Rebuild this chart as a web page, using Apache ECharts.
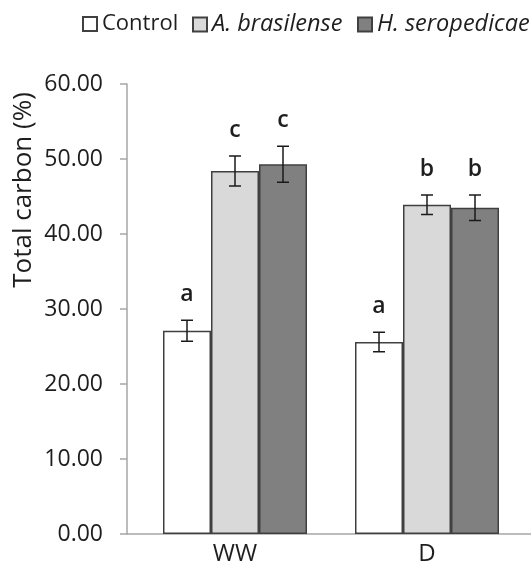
<!DOCTYPE html>
<html>
<head>
<meta charset="utf-8">
<script src="https://cdn.jsdelivr.net/npm/echarts@6/dist/echarts.min.js"></script>
<style>
  html, body { margin: 0; padding: 0; background: #fff; }
  #chart { width: 531px; height: 566px; }
</style>
</head>
<body>
<div id="chart"></div>
<script>
// Total carbon (%) per treatment, well-watered (WW) vs drought (D)

var categories = ['WW', 'D'];
var seriesNames = ['Control', 'A. brasilense', 'H. seropedicae'];

var control = [27.1, 25.6];
var brasilense = [48.4, 43.9];
var seropedicae = [49.3, 43.5];

var controlErr = [1.4, 1.3];
var brasilenseErr = [2.0, 1.3];
var seropedicaeErr = [2.4, 1.7];

var controlLetters = ['a', 'a'];
var brasilenseLetters = ['c', 'b'];
var seropedicaeLetters = ['c', 'b'];

var yTicks = [0, 10, 20, 30, 40, 50, 60];

var values = [control, brasilense, seropedicae];
var errors = [controlErr, brasilenseErr, seropedicaeErr];
var letters = [controlLetters, brasilenseLetters, seropedicaeLetters];
var colors = ['#ffffff', '#d9d9d9', '#808080'];

var font = '"Open Sans", "Noto Sans", sans-serif';
var textColor = '#1e1e1e';

var myChart = echarts.init(document.getElementById('chart'), null, { renderer: 'canvas' });

var series = [];
values.forEach(function (vals, i) {
  series.push({
    name: seriesNames[i],
    type: 'bar',
    xAxisIndex: 0,
    yAxisIndex: 0,
    barGap: '0%',
    barCategoryGap: '25%',
    itemStyle: { color: colors[i], borderColor: '#404040', borderWidth: 1.5 },
    data: vals
  });
});

// error bars and significance letters
values.forEach(function (vals, i) {
  series.push({
    name: seriesNames[i] + ' err',
    type: 'custom',
    xAxisIndex: 0,
    yAxisIndex: 0,
    z: 5,
    data: vals.map(function (v, k) { return [k, v, errors[i][k]]; }),
    renderItem: function (params, api) {
      var k = api.value(0), v = api.value(1), e = api.value(2);
      var c = api.coord([k, v]);
      var bw = api.size([1, 0])[0] * 0.25;
      var x = c[0] + (i - 1) * bw;
      var top = api.coord([k, v + e])[1];
      var bot = api.coord([k, v - e])[1];
      var cap = 6;
      var st = { stroke: '#1a1a1a', lineWidth: 1.5 };
      return {
        type: 'group',
        children: [
          { type: 'line', shape: { x1: x, y1: top, x2: x, y2: bot }, style: st },
          { type: 'line', shape: { x1: x - cap, y1: top, x2: x + cap, y2: top }, style: st },
          { type: 'line', shape: { x1: x - cap, y1: bot, x2: x + cap, y2: bot }, style: st },
          {
            type: 'text',
            x: x, y: top - 14,
            style: {
              text: letters[i][params.dataIndex],
              fill: textColor,
              font: '600 23px ' + font,
              textAlign: 'center',
              textVerticalAlign: 'bottom'
            }
          }
        ]
      };
    }
  });
});

function legendFor(name, left, italic) {
  return {
    data: [name],
    left: left,
    top: 13,
    padding: 0,
    icon: 'rect',
    itemWidth: 14,
    itemHeight: 14,
    itemGap: 0,
    textStyle: {
      fontFamily: font, fontSize: 22, color: textColor, padding: [0, 0, 0, 0],
      rich: { i: { fontFamily: font, fontSize: 23.5, color: textColor, fontStyle: 'italic' } }
    },
    formatter: italic ? function (n) { return '{i|' + n + '}'; } : '{name}'
  };
}

var option = {
  animation: false,
  backgroundColor: '#ffffff',
  legend: [
    legendFor(seriesNames[0], 82, false),
    legendFor(seriesNames[1], 192, true),
    legendFor(seriesNames[2], 357, true)
  ],
  grid: [
    { left: 139, right: 8, top: 84, bottom: 32 },
    { left: 127, right: 0, top: 84, bottom: 32 }
  ],
  xAxis: [
    {
      type: 'category',
      gridIndex: 0,
      data: categories,
      axisLine: { show: false },
      axisTick: { show: false },
      axisLabel: { fontFamily: font, fontSize: 24, color: textColor, margin: 8 }
    },
    {
      type: 'value',
      gridIndex: 1,
      axisLine: { show: true, lineStyle: { color: '#a6a6a6', width: 1.5 } },
      axisTick: { show: false },
      axisLabel: { show: false },
      splitLine: { show: false }
    }
  ],
  yAxis: [
    {
      type: 'value',
      gridIndex: 0,
      min: yTicks[0],
      max: yTicks[yTicks.length - 1],
      interval: 10,
      offset: 12,
      axisLine: { show: true, lineStyle: { color: '#a6a6a6', width: 1.5 } },
      axisTick: { show: true, length: 7, lineStyle: { color: '#a6a6a6', width: 1.5 } },
      splitLine: { show: false },
      axisLabel: {
        fontFamily: font, fontSize: 23, color: textColor, margin: 24,
        formatter: function (v) { return v.toFixed(2); }
      }
    },
    { type: 'value', gridIndex: 1, show: false }
  ],
  graphic: [
    {
      type: 'text',
      x: 24, y: 190,
      rotation: Math.PI / 2,
      style: {
        text: 'Total carbon (%)',
        font: '26px ' + font,
        fill: textColor,
        textAlign: 'center',
        textVerticalAlign: 'middle'
      }
    }
  ],
  series: series
};

myChart.setOption(option);
</script>
</body>
</html>
